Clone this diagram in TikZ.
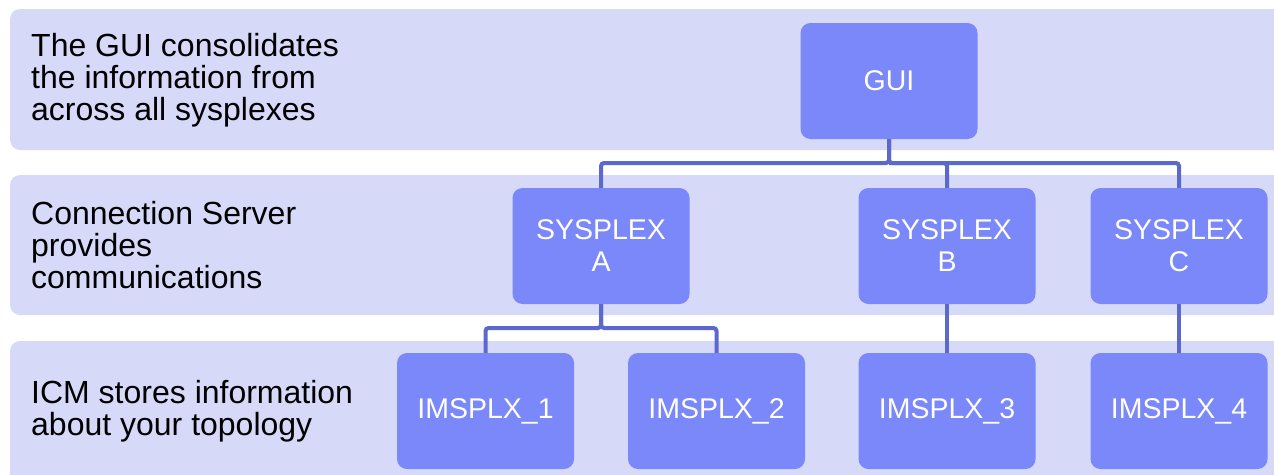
\documentclass[tikz,border=0pt]{standalone}
\usepackage{fontspec}
\setmainfont{Liberation Sans}
\definecolor{bandfill}{HTML}{D7D9F9}
\definecolor{boxfill}{HTML}{7A88F9}
\definecolor{linecol}{HTML}{5B69CE}
\begin{document}
\begin{tikzpicture}[x=1pt,y=-1pt,
  band/.style={fill=bandfill,rounded corners=10pt},
  unitbox/.style={fill=boxfill,rounded corners=10pt,minimum width=177pt,minimum height=116pt,
    text=white,align=center,inner sep=0pt,font=\fontsize{28.5}{32}\selectfont},
  lefttext/.style={anchor=west,align=left,inner sep=0pt,font=\fontsize{32}{32}\selectfont},
  conn/.style={draw=linecol,line width=4pt,rounded corners=3pt}]
\useasboundingbox (0,0) rectangle (1274,474);
\clip (0,0) rectangle (1274,474);
\fill[white] (0,0) rectangle (1274,474);
\path[band] (10,9) rectangle (1300,150);
\path[band] (10,175) rectangle (1300,315);
\path[band] (10,341) rectangle (1300,500);
\node[lefttext] (t1) at (31,80) {The GUI consolidates\\the information from\\across all sysplexes};
\node[lefttext] (t2) at (31,245) {Connection Server\\provides\\communications};
\node[lefttext] (t3) at (31,411) {ICM stores information\\about your topology};
\coordinate (bus) at (0,163);
\coordinate (bus2) at (0,328);
\node[unitbox] (gui) at (889,81) {GUI};
\node[unitbox] (sa) at (601,246) {SYSPLEX\\A};
\node[unitbox] (sb) at (947,246) {SYSPLEX\\B};
\node[unitbox] (sc) at (1179,246) {SYSPLEX\\C};
\node[unitbox] (i1) at (485.5,411) {IMSPLX\_1};
\node[unitbox] (i2) at (716.5,411) {IMSPLX\_2};
\node[unitbox] (i3) at (947,411) {IMSPLX\_3};
\node[unitbox] (i4) at (1179,411) {IMSPLX\_4};
\draw[conn] (gui.south) -- (gui.south |- bus) -| (sa.north);
\draw[conn] (gui.south) -- (gui.south |- bus) -| (sc.north);
\draw[conn] (gui.south |- bus) -| (sb.north);
\draw[conn] (sa.south) -- (sa.south |- bus2) -| (i1.north);
\draw[conn] (sa.south) -- (sa.south |- bus2) -| (i2.north);
\draw[conn] (sb.south) -- (i3.north);
\draw[conn] (sc.south) -- (i4.north);
\end{tikzpicture}
\end{document}
